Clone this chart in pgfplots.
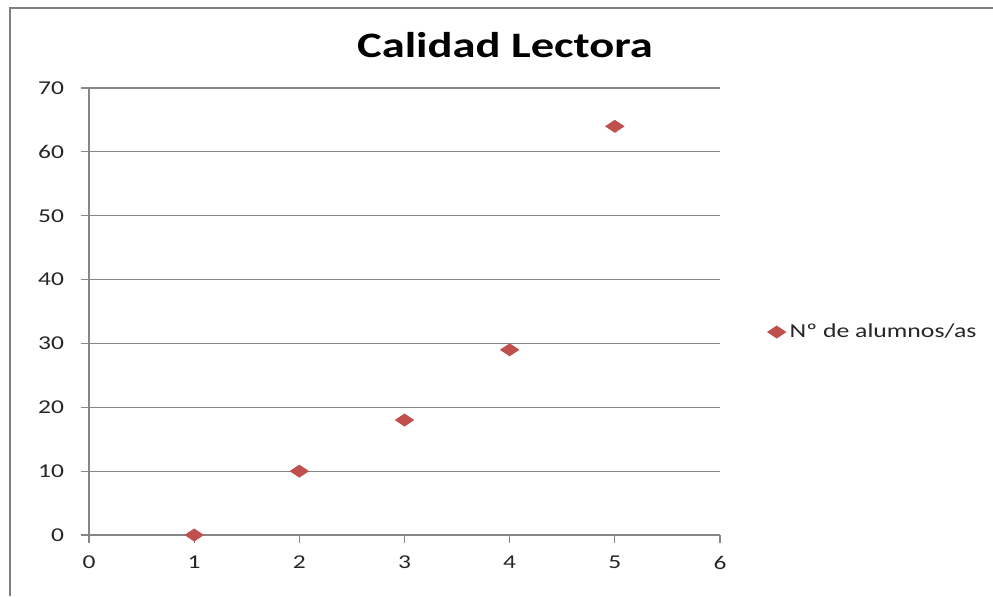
\documentclass[border=0pt]{standalone}
\usepackage{pgfplots}
\pgfplotsset{compat=1.18}
\usepackage{fontspec}
\setmainfont{Carlito}[FakeStretch=1.3]
\definecolor{gridgray}{HTML}{868686}
\definecolor{mred}{HTML}{C0504D}
\begin{document}
\begin{tikzpicture}
\useasboundingbox (0pt,0pt) rectangle (496.5pt,298pt);
\draw[color=gray, line width=1pt] (5pt,0pt) -- (5pt,294pt) -- (496.5pt,294pt);
\node[font=\fontsize{17.9}{20}\selectfont\bfseries] at (252.5pt,275.5pt) {Calidad Lectora};
\begin{axis}[
  at={(44.5pt,30.5pt)}, anchor=south west,
  scale only axis, width=315.5pt, height=223.5pt,
  xmin=0, xmax=6, ymin=0, ymax=70,
  xtick={0,1,2,3,4,5,6}, ytick={0,10,20,30,40,50,60,70},
  axis x line*=bottom, axis y line*=left,
  axis line style={gridgray, line width=0.6pt, -},
  ymajorgrids, grid style={gridgray, line width=0.6pt},
  tick align=outside, major tick length=4pt,
  tick style={gridgray, line width=0.6pt},
  /pgf/number format/assume math mode=true,
  ticklabel style={font=\fontsize{9.8}{11}\selectfont, text=black!85},
  xticklabel style={yshift=-3pt},
  yticklabel style={xshift=-5pt},
  clip=false,
  legend style={at={(1.075,0.454)}, anchor=west, draw=none, fill=none,
    font=\fontsize{9.9}{11}\selectfont, inner sep=0pt, text=black!85},
  legend cell align=left,
]
\addplot[only marks, mark=diamond*, mark size=3pt, mark options={xscale=2},
  color=mred, fill=mred]
  coordinates {(1,0) (2,10) (3,18) (4,29) (5,64)};
\addlegendentry{Nº de alumnos/as}
\end{axis}
\end{tikzpicture}
\end{document}
